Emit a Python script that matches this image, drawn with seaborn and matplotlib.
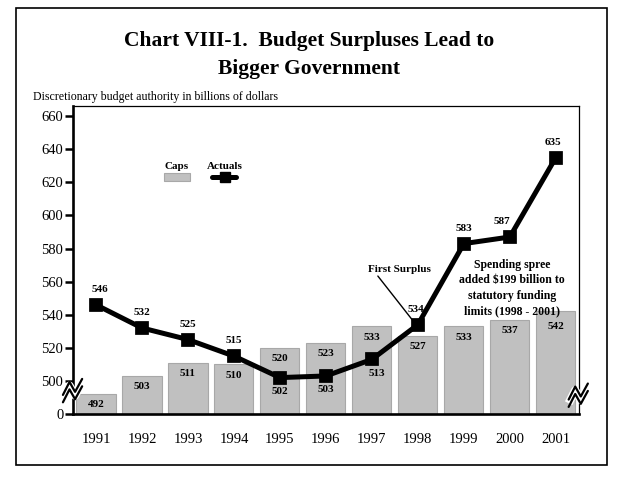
import numpy as np
import pandas as pd
import matplotlib.pyplot as plt
import seaborn as sns
from matplotlib.patches import Rectangle

years = ["1991", "1992", "1993", "1994", "1995", "1996", "1997", "1998", "1999", "2000", "2001"]
caps = [492, 503, 511, 510, 520, 523, 533, 527, 533, 537, 542]
actuals = [546, 532, 525, 515, 502, 503, 513, 534, 583, 587, 635]
ytick_vals = [480, 500, 520, 540, 560, 580, 600, 620, 640, 660]
ytick_labels = ["0", "500", "520", "540", "560", "580", "600", "620", "640", "660"]

df = pd.DataFrame({"year": years, "caps": caps, "actual": actuals})

sns.set_style("white")
plt.rcParams["font.family"] = ["Liberation Serif", "DejaVu Serif"]
plt.rcParams["text.color"] = "black"
plt.rcParams["xtick.color"] = "black"
plt.rcParams["ytick.color"] = "black"

fig = plt.figure(figsize=(6.19, 4.8), dpi=100)
ax = fig.add_axes([0.118, 0.1375, 0.817, 0.641])

sns.barplot(data=df, x="year", y="caps", color="#c0c0c0", saturation=1,
            width=0.85, edgecolor="#a8a8a8", linewidth=0.8, ax=ax, zorder=2)
sns.pointplot(data=df, x="year", y="actual", color="black", marker="s",
              markersize=7.5, linewidth=3.6, errorbar=None, ax=ax, zorder=4)

ax.set_ylim(480, 666)
ax.set_xlim(-0.5, 10.5)
ax.set_yticks(ytick_vals)
ax.set_yticklabels(ytick_labels)
ax.set_xlabel("")
ax.set_ylabel("")
ax.tick_params(axis="y", left=True, direction="out", length=6, width=1.8,
               labelsize=10.5, pad=1, colors="black")
ax.tick_params(axis="x", length=0, labelsize=10.5, pad=14, colors="black")
for s in ["left", "bottom"]:
    ax.spines[s].set_linewidth(1.9)
for s in ["top", "right"]:
    ax.spines[s].set_linewidth(0.9)
for s in ax.spines.values():
    s.set_color("black")

# value labels on bars
for i, v in enumerate(caps):
    dy = -11 if i == 10 else -7.7
    ax.annotate(str(v), (i, v), xytext=(0, dy), textcoords="offset points",
                ha="center", va="center", fontsize=8, fontweight="bold", zorder=3)

# value labels on line
below = {4, 5, 6}
xshift = {0: 3, 6: 3.5, 7: -1.5, 9: -6, 10: -2}
for i, v in enumerate(actuals):
    dy = -10 if i in below else 11
    ax.annotate(str(v), (i, v), xytext=(xshift.get(i, 0), dy), textcoords="offset points",
                ha="center", va="center", fontsize=8, fontweight="bold", zorder=5)

# first surplus note
ax.text(6.6, 567.5, "First Surplus", ha="center", va="center",
        fontsize=8, fontweight="bold")
ax.plot([6.13, 6.89], [563.4, 536.5], color="black", lw=1, zorder=3)
ax.text(9.05, 556, "Spending spree\nadded $199 billion to\nstatutory funding\nlimits (1998 - 2001)",
        ha="center", va="center", fontsize=8.5, fontweight="bold", linespacing=1.4)

# legend
ax.text(1.76, 629.6, "Caps", ha="center", va="center", fontsize=8, fontweight="bold")
ax.add_patch(Rectangle((1.48, 620.8), 0.56, 4.8, facecolor="#c0c0c0", edgecolor="#a8a8a8",
                       lw=0.8, zorder=3))
ax.text(2.80, 629.6, "Actuals", ha="center", va="center", fontsize=8, fontweight="bold")
ax.plot([2.52, 3.04], [623.2, 623.2], color="black", lw=3.6, zorder=3)
ax.plot([2.80], [623.2], marker="s", color="black", markersize=7.5, zorder=3)

# axis break marks
def brk(xc, yc):
    zx = np.array([-0.020, -0.007, 0.004, 0.018])
    zy = np.array([-0.01, 0.032, 0.0, 0.042])
    kw = dict(transform=ax.transAxes, clip_on=False, zorder=6)
    ax.plot(xc + zx, yc + zy - 0.03, color="white", lw=6, solid_capstyle="butt", **kw)
    ax.plot(xc + zx, yc + zy - 0.03 + 0.012, color="black", lw=1.6, **kw)
    ax.plot(xc + zx, yc + zy - 0.03 - 0.012, color="black", lw=1.6, **kw)

brk(0.0, 0.09)
brk(1.0, 0.075)

fig.text(0.5, 0.885, "Chart VIII-1.  Budget Surpluses Lead to\nBigger Government",
         ha="center", va="center", fontsize=15.5, fontweight="bold", linespacing=1.55)
fig.text(0.053, 0.798, "Discretionary budget authority in billions of dollars",
         ha="left", va="center", fontsize=8.6)
fig.patches.append(Rectangle((0.026, 0.031), 0.955, 0.952, transform=fig.transFigure,
                             fill=False, edgecolor="black", lw=1.2))

fig.savefig("out.png", dpi=100)
